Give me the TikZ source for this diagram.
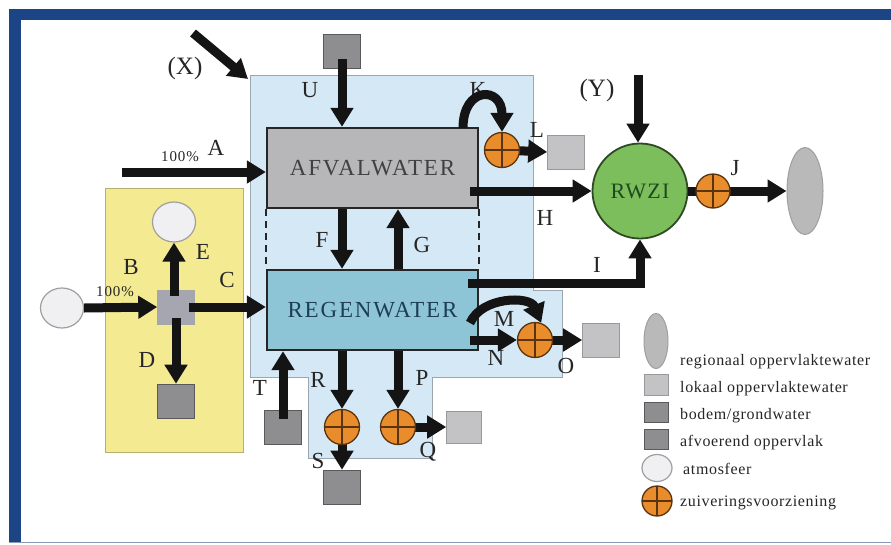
\documentclass[tikz,border=0pt]{standalone}
\usepackage{fontspec}
\setmainfont{Liberation Serif}
\usetikzlibrary{arrows.meta,shapes.geometric,calc}
\pgfdeclarelayer{bg}
\pgfdeclarelayer{arr}
\pgfdeclarelayer{fg}
\pgfsetlayers{bg,main,arr,fg}
\definecolor{frameblue}{HTML}{1B4585}
\definecolor{framethin}{HTML}{8A9AB8}
\definecolor{regionblue}{HTML}{D5E8F5}
\definecolor{regionline}{HTML}{9AA6B0}
\definecolor{soilyellow}{HTML}{F4EA92}
\definecolor{soilline}{HTML}{B8B070}
\definecolor{afvalfill}{HTML}{B7B7BA}
\definecolor{regenfill}{HTML}{8EC5D6}
\definecolor{regentext}{HTML}{1E3D58}
\definecolor{rwzifill}{HTML}{7DBE5C}
\definecolor{rwziline}{HTML}{2E4A24}
\definecolor{rwzitext}{HTML}{1E4A1E}
\definecolor{purorange}{HTML}{E98C2C}
\definecolor{purbrown}{HTML}{5A3410}
\definecolor{grdark}{HTML}{8E8E90}
\definecolor{grlight}{HTML}{C3C3C5}
\definecolor{grjunc}{HTML}{A6A6B0}
\definecolor{atmfill}{HTML}{F0F0F3}
\definecolor{labelc}{HTML}{262626}
\begin{document}
\begin{tikzpicture}[x=1pt,y=-1pt,
  lbl/.style={font=\fontsize{23}{23}\selectfont, text=labelc, inner sep=0},
  biglbl/.style={font=\fontsize{25}{25}\selectfont, text=labelc, inner sep=0},
  pct/.style={font=\fontsize{15}{15}\selectfont\addfontfeature{LetterSpace=6}, text=labelc, inner sep=0},
  legtxt/.style={font=\fontsize{16}{16}\selectfont\addfontfeature{LetterSpace=4}, text=labelc, inner sep=0, anchor=west},
  boxtxt/.style={font=\fontsize{23}{23}\selectfont\addfontfeature{LetterSpace=8}},
  flow/.style={draw=black!92, line width=9pt, -{Triangle[width=22pt,length=19pt]}},
  waterbox/.style={rectangle, minimum width=211pt, minimum height=80pt, inner sep=0, draw=black!85, line width=2.4pt},
  pure/.style={circle, minimum size=35pt, inner sep=0, fill=purorange, draw=purbrown, line width=1.3pt,
    path picture={\draw[purbrown, line width=1.3pt] (path picture bounding box.north) -- (path picture bounding box.south)
      (path picture bounding box.west) -- (path picture bounding box.east);}},
  sqdark/.style={rectangle, minimum width=37pt, minimum height=34pt, inner sep=0, fill=grdark, draw=gray!70!black, line width=0.6pt},
  sqlight/.style={rectangle, minimum width=37pt, minimum height=34pt, inner sep=0, fill=grlight, draw=gray!80, line width=0.6pt},
  atm/.style={ellipse, minimum width=43pt, minimum height=40pt, inner sep=0, fill=atmfill, draw=gray!75, line width=1.2pt}
]
\useasboundingbox (0,0) rectangle (891,544);
% ---------- frame and regions ----------
\begin{pgfonlayer}{bg}
  \fill[white] (0,0) rectangle (891,544);
  \fill[frameblue] (9,9) rectangle (891,19.5);
  \fill[frameblue] (9,9) rectangle (20.5,542);
  \draw[framethin, line width=1pt] (9,542.5) -- (891,542.5);
  \fill[regionblue] (250,75) -- (533,75) -- (533,290) -- (562,290) -- (562,377)
     -- (432,377) -- (432,458) -- (308,458) -- (308,377) -- (250,377) -- cycle;
  \draw[regionline, line width=1pt] (250,75) -- (533,75) -- (533,290) -- (562,290) -- (562,377)
     -- (432,377) -- (432,458) -- (308,458) -- (308,377) -- (250,377) -- cycle;
  \filldraw[fill=soilyellow, draw=soilline, line width=1pt] (105,188) rectangle (243,452);
\end{pgfonlayer}
\coordinate (regcorner) at (248,79);
% ---------- main nodes ----------
\node[waterbox, fill=afvalfill, boxtxt, text=black!75] (afval) at (372.5,168) {AFVALWATER};
\node[waterbox, fill=regenfill, boxtxt, text=regentext] (regen) at (372.5,310) {REGENWATER};
\draw[black!85, line width=2.2pt, dash pattern=on 7pt off 5pt] (afval.south west) -- (regen.north west);
\draw[black!85, line width=2.2pt, dash pattern=on 7pt off 5pt] (afval.south east) -- (regen.north east);
\node[circle, minimum size=95pt, inner sep=0, fill=rwzifill, draw=rwziline, line width=1.8pt,
      font=\fontsize{22}{22}\selectfont\addfontfeature{LetterSpace=6}, text=rwzitext] (rwzi) at (640,191) {RWZI};
\node[ellipse, minimum width=36pt, minimum height=87pt, inner sep=0, fill=gray!55, draw=gray!75, line width=1pt] (sea) at (805,191) {};
% squares
\node[sqdark] (usq) at (342,51) {};
\node[sqlight] (lsq) at (566,152) {};
\node[sqlight] (osq) at (601,340) {};
\node[sqlight, minimum width=35pt, minimum height=32pt] (qsq) at (464,427) {};
\node[sqdark] (tsq) at (283,427) {};
\node[sqdark] (ssq) at (342,487) {};
\node[sqdark] (dsq) at (176,401) {};
\node[rectangle, minimum width=37pt, minimum height=34pt, inner sep=0, fill=grjunc, draw=gray!70, line width=0.6pt] (jn) at (176,307) {};
% atmosphere
\node[atm] (atmL) at (62,308) {};
\node[atm] (atmT) at (174,222) {};
% purification
\begin{pgfonlayer}{fg}
\node[pure] (oK) at (502,150) {};
\node[pure] (oN) at (535,340) {};
\node[pure] (oR) at (342,427) {};
\node[pure] (oP) at (398,427) {};
\node[pure, minimum size=34pt] (oJ) at (713,191) {};
\end{pgfonlayer}
% free ends
\coordinate (xtail) at (193,33);
\coordinate (atail) at (122,172);
\coordinate (ytail) at (638,75);
\coordinate (hstart) at (470,191);
\coordinate (istart) at (468,283);
\coordinate (mstart) at (470,323);
\coordinate (nstart) at (470,340);
\coordinate (kstart) at (463,128);
\coordinate (ecol) at (174,0);
% ---------- arrows ----------
\begin{pgfonlayer}{arr}
\draw[flow] (xtail) -- (regcorner);
\draw[flow] (atail) -- (atail -| afval.west);
\draw[flow, shorten <=-9pt] (usq.south) -- (usq |- afval.north);
\draw[flow] (usq |- afval.south) -- (usq |- regen.north);
\draw[flow] (oP |- regen.north) -- (oP |- afval.south);
\draw[flow] (hstart) -- (rwzi.west);
\draw[flow] (istart) -| (rwzi.south);
\draw[flow] (ytail) -- (ytail |- rwzi.north);
\draw[flow] (rwzi.east) -- (sea.west);
\draw[flow] (kstart) .. controls (463,86) and (502,86) .. (oK.north);
\draw[flow] (oK.center) -- (lsq.west);
\draw[flow] (mstart) .. controls (482,296) and (530,296) .. (oN.70);
\draw[flow] (nstart) -- (oN.west);
\draw[flow] (oN.center) -- (osq.west);
\draw[flow] (oR |- regen.south) -- (oR.north);
\draw[flow] (oP |- regen.south) -- (oP.north);
\draw[flow, shorten <=-6pt] (oR.south) -- (ssq.north);
\draw[flow] (oP.center) -- (qsq.west);
\draw[flow, shorten <=8pt] (tsq.center) -- (tsq |- regen.south);
\draw[flow] (atmL.east) -- (jn.west);
\draw[flow, shorten <=-6pt] (ecol |- jn.north) -- (atmT.south);
\draw[flow, shorten <=-6pt] (jn.south) -- (dsq.north);
\draw[flow, shorten <=-6pt] (jn.east) -- (jn.east -| regen.west);
\end{pgfonlayer}
% ---------- labels ----------
\node[biglbl] (lX) at (185,68) {(X)};
\node[biglbl] (lY) at (597,90) {(Y)};
\node[lbl] (lU) at (310,90) {U};
\node[lbl] (lA) at (216,148) {A};
\node[pct] (pA) at (180,157) {100\%};
\node[lbl] (lK) at (478,90) {K};
\node[lbl] (lL) at (537,130) {L};
\node[lbl] (lJ) at (735,168) {J};
\node[lbl] (lH) at (545,218) {H};
\node[lbl] (lF) at (322,240) {F};
\node[lbl] (lG) at (422,245) {G};
\node[lbl] (lI) at (597,265) {I};
\node[lbl] (lB) at (131,267) {B};
\node[lbl] (lE) at (203,252) {E};
\node[lbl] (lC) at (227,280) {C};
\node[pct] (pB) at (115,292) {100\%};
\node[lbl] (lD) at (147,360) {D};
\node[lbl] (lM) at (504,319) {M};
\node[lbl] (lN) at (496,358) {N};
\node[lbl] (lO) at (566,366) {O};
\node[lbl] (lT) at (260,388) {T};
\node[lbl] (lR) at (318,380) {R};
\node[lbl] (lP) at (422,378) {P};
\node[lbl] (lS) at (318,461) {S};
\node[lbl] (lQ) at (428,452) {Q};
% ---------- legend ----------
\node[ellipse, minimum width=24pt, minimum height=55pt, inner sep=0, fill=gray!55, draw=gray!75, line width=1pt] (kSea) at (656,341) {};
\node[sqlight, minimum width=24pt, minimum height=21pt] (kLok) at (656,384.5) {};
\node[sqdark, minimum width=24pt, minimum height=20pt] (kBod) at (656,412) {};
\node[sqdark, minimum width=24pt, minimum height=20pt] (kAfv) at (656,439) {};
\node[atm, minimum width=30pt, minimum height=27pt] (kAtm) at (657,468) {};
\node[pure, minimum width=30pt, minimum height=28pt] (kPur) at (657,501) {};
\node[legtxt] (tSea) at (680,362) {regionaal oppervlaktewater};
\node[legtxt] (tLok) at (680,389) {lokaal oppervlaktewater};
\node[legtxt] (tBod) at (680,416) {bodem/grondwater};
\node[legtxt] (tAfv) at (680,443) {afvoerend oppervlak};
\node[legtxt] (tAtm) at (683,469) {atmosfeer};
\node[legtxt] (tPur) at (680,503) {zuiveringsvoorziening};
\end{tikzpicture}
\end{document}
